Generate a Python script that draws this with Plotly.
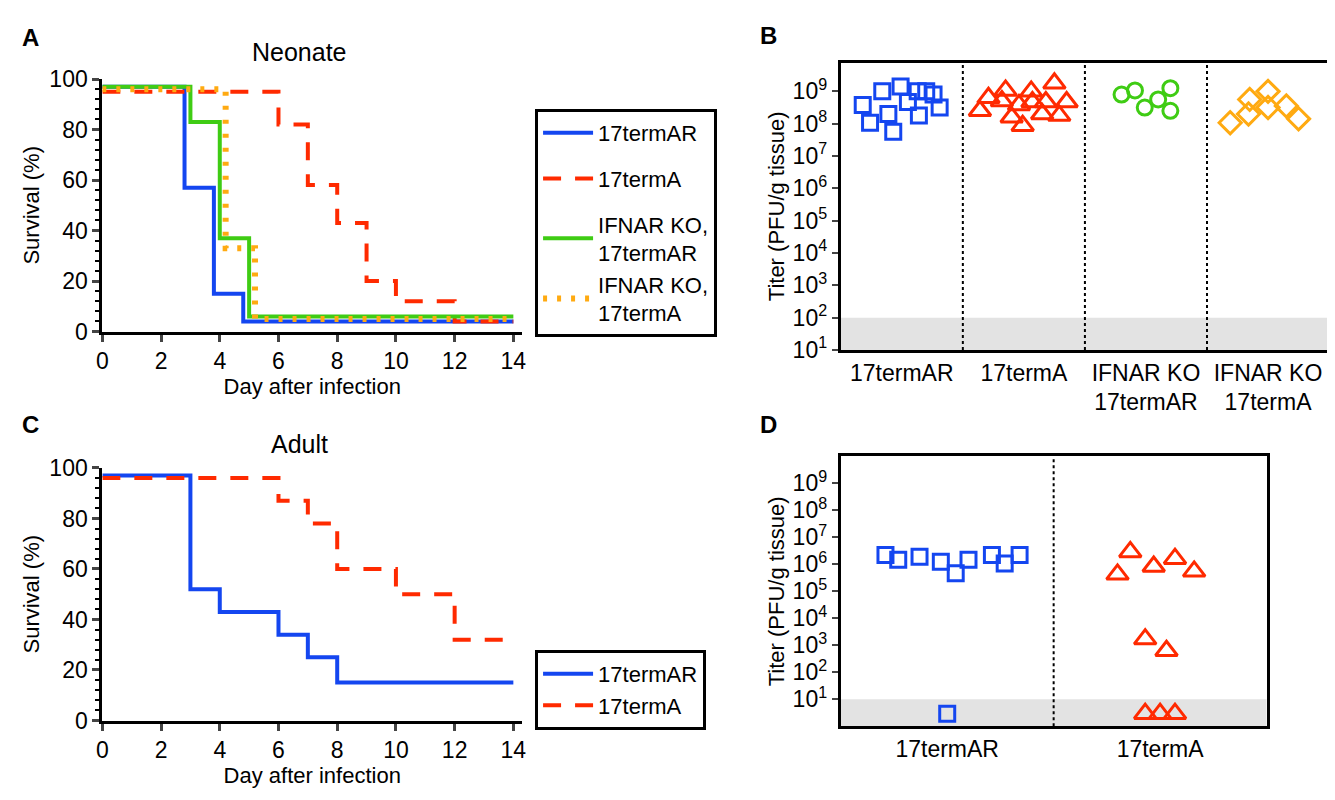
import plotly.graph_objects as go

# Panel A (Neonate) survival step data
a_ar_day = [0, 2.8, 3.8, 4.8, 14]
a_ar_surv = [97, 57, 15, 4, 4]
a_a_day = [0, 6, 7, 8, 9, 10, 12, 14]
a_a_surv = [95, 82, 58, 43, 20, 12, 4, 4]
a_koar_day = [0, 3, 4, 5, 14]
a_koar_surv = [97, 83, 37, 6, 6]
a_koa_day = [0, 4.2, 5.2, 14]
a_koa_surv = [96, 33, 5, 5]

# Panel C (Adult)
c_ar_day = [0, 3, 4, 6, 7, 8, 14]
c_ar_surv = [97, 52, 43, 34, 25, 15, 15]
c_a_day = [0, 6, 7, 8, 10, 12, 14]
c_a_surv = [96, 87, 78, 60, 50, 32, 32]

# Panel B titers (category index + jitter, log10 titer)
b_categories = ["17termAR", "17termA", "IFNAR KO<br>17termAR", "IFNAR KO<br>17termA"]
b_ar_x = [-0.32, -0.26, -0.16, -0.11, -0.07, -0.01, 0.05, 0.13, 0.14, 0.20, 0.26, 0.31]
b_ar_log = [8.58, 8.03, 9.0, 8.3, 7.75, 9.15, 8.67, 9.0, 8.25, 9.0, 8.9, 8.5]
b_a_x = [-0.36, -0.29, -0.18, -0.15, -0.10, -0.04, -0.01, 0.06, 0.07, 0.15, 0.18, 0.25, 0.29, 0.35]
b_a_log = [8.4, 8.8, 8.7, 9.03, 8.2, 8.58, 7.94, 9.0, 8.67, 8.3, 8.67, 9.25, 8.25, 8.67]
b_koar_x = [-0.20, -0.09, -0.01, 0.10, 0.20, 0.20]
b_koar_log = [8.9, 9.03, 8.5, 8.75, 9.1, 8.4]
b_koa_x = [-0.31, -0.16, -0.15, 0.0, 0.0, 0.15, 0.25]
b_koa_log = [8.03, 8.3, 8.75, 9.0, 8.5, 8.55, 8.15]

# Panel D titers
d_categories = ["17termAR", "17termA"]
d_ar_x = [-0.29, -0.23, -0.13, -0.03, 0.04, 0.10, 0.21, 0.27, 0.34, 0.0]
d_ar_log = [6.35, 6.17, 6.28, 6.10, 5.67, 6.17, 6.35, 6.03, 6.35, 0.47]
d_a_x = [0.80, 0.86, 0.97, 1.07, 1.16, 0.93, 1.03, 0.93, 1.0, 1.07]
d_a_log = [5.63, 6.46, 5.92, 6.21, 5.74, 3.23, 2.80, 0.47, 0.47, 0.47]

BLUE = "#1446f0"
RED = "#ff2a00"
GREEN = "#3fcc14"
ORANGE = "#ffaa11"
FONT = "Liberation Sans"

fig = go.Figure()

def surv(x, y, name, color, dash, xa, ya, legend, group, width=4):
    fig.add_trace(go.Scatter(x=x, y=y, mode="lines", line_shape="hv", name=name,
                             line=dict(color=color, width=width, dash=dash),
                             xaxis=xa, yaxis=ya, legend=legend, legendgroup=group))

surv(a_ar_day, a_ar_surv, "17termAR", BLUE, "solid", "x", "y", "legend", "a1")
surv(a_a_day, a_a_surv, "17termA", RED, "18px,14px", "x", "y", "legend", "a2")
surv(a_koar_day, a_koar_surv, "IFNAR KO,<br>17termAR", GREEN, "solid", "x", "y", "legend", "a3")
surv(a_koa_day, a_koa_surv, "IFNAR KO,<br>17termA", ORANGE, "4px,10px", "x", "y", "legend", "a3", 6)
surv(c_ar_day, c_ar_surv, "17termAR", BLUE, "solid", "x3", "y3", "legend2", "c1")
surv(c_a_day, c_a_surv, "17termA", RED, "18px,14px", "x3", "y3", "legend2", "c1")

def pts(x, y, sym, color, size, xa, ya):
    fig.add_trace(go.Scatter(x=x, y=[10 ** v for v in y], mode="markers", showlegend=False,
                             marker=dict(symbol=sym, size=size, color=color,
                                         line=dict(color=color, width=3)),
                             xaxis=xa, yaxis=ya))

pts(b_ar_x, b_ar_log, "square-open", BLUE, 15, "x2", "y2")
pts([1 + v for v in b_a_x], b_a_log, "triangle-up-open", RED, 19, "x2", "y2")
pts([2 + v for v in b_koar_x], b_koar_log, "circle-open", GREEN, 15, "x2", "y2")
pts([3 + v for v in b_koa_x], b_koa_log, "diamond-open", ORANGE, 17, "x2", "y2")
pts(d_ar_x, d_ar_log, "square-open", BLUE, 15, "x4", "y4")
pts(d_a_x, d_a_log, "triangle-up-open", RED, 19, "x4", "y4")

W, H = 1335, 800
def dx(a, b): return [a / W, b / W]
def dy(top, bot): return [1 - bot / H, 1 - top / H]

tickf = dict(family=FONT, size=23, color="black")
titf = dict(family=FONT, size=22, color="black")
surv_x = dict(range=[0, 14.3], dtick=2, ticks="outside", ticklen=7, tickwidth=3,
              showline=True, linewidth=3, linecolor="black", showgrid=False, zeroline=False,
              tickfont=tickf, title=dict(text="Day after infection", font=titf, standoff=2))
surv_y = dict(range=[0, 100], dtick=20, ticks="outside", ticklen=7, tickwidth=3,
              minor=dict(dtick=4, ticks="outside", ticklen=4, tickwidth=2, tickcolor="black"),
              showline=True, linewidth=3, linecolor="black", showgrid=False, zeroline=False,
              tickfont=tickf, title=dict(text="Survival (%)", font=titf, standoff=4))
log_ticks = dict(tickvals=[10 ** k for k in range(1, 10)],
                 ticktext=["10<sup>%d</sup>" % k for k in range(1, 10)],
                 ticks="outside", ticklen=6, tickwidth=2, showgrid=False, zeroline=False,
                 showline=True, mirror=True, linewidth=3, linecolor="black", tickfont=tickf,
                 title=dict(text="Titer (PFU/g tissue)", font=titf, standoff=2))

fig.update_layout(
    width=W, height=H, margin=dict(l=0, r=0, t=0, b=0),
    plot_bgcolor="white", paper_bgcolor="white", font=dict(family=FONT, color="black"),
    xaxis=dict(surv_x, domain=dx(89, 512), anchor="y"),
    yaxis=dict(surv_y, domain=dy(60, 321), anchor="x"),
    xaxis3=dict(surv_x, domain=dx(89, 512), anchor="y3"),
    yaxis3=dict(surv_y, domain=dy(462, 723), anchor="x3"),
    xaxis2=dict(domain=dx(833, 1325), anchor="y2", range=[-0.5, 3.5], tickvals=[0, 1, 2, 3],
                ticktext=b_categories, ticks="", showgrid=False, zeroline=False,
                showline=True, mirror=True, linewidth=3, linecolor="black", tickfont=tickf),
    yaxis2=dict(log_ticks, domain=dy(43, 340), anchor="x2", type="log", range=[1, 9.89]),
    xaxis4=dict(domain=dx(833, 1262), anchor="y4", range=[-0.5, 1.5], tickvals=[0, 1],
                ticktext=d_categories, ticks="", showgrid=False, zeroline=False,
                showline=True, mirror=True, linewidth=3, linecolor="black", tickfont=tickf),
    yaxis4=dict(log_ticks, domain=dy(450, 729), anchor="x4", type="log", range=[0, 10.0]),
    legend=dict(x=525 / W, y=1 - 91 / H, xanchor="left", yanchor="top", bordercolor="black",
                borderwidth=3, font=dict(family=FONT, size=22), tracegroupgap=14, itemwidth=50,
                bgcolor="white"),
    legend2=dict(x=525 / W, y=1 - 650 / H, xanchor="left", yanchor="top", bordercolor="black",
                 borderwidth=3, font=dict(family=FONT, size=22), tracegroupgap=0, itemwidth=50,
                 bgcolor="white"),
)

shapes = [
    dict(type="rect", xref="x2 domain", yref="y2 domain", x0=0, x1=1, y0=0, y1=1 / 8.89,
         fillcolor="#e3e3e3", line_width=0, layer="below"),
    dict(type="rect", xref="x4 domain", yref="y4 domain", x0=0, x1=1, y0=0, y1=0.1,
         fillcolor="#e3e3e3", line_width=0, layer="below"),
]
for xv in [0.5, 1.5, 2.5]:
    shapes.append(dict(type="line", xref="x2", yref="y2 domain", x0=xv, x1=xv, y0=0, y1=1,
                       line=dict(color="black", width=2, dash="dot")))
shapes.append(dict(type="line", xref="x4", yref="y4 domain", x0=0.5, x1=0.5, y0=0, y1=1,
                   line=dict(color="black", width=2, dash="dot")))
fig.update_layout(shapes=shapes)

ann = []
for txt, x, y in [("A", 6, 17), ("B", 750, 15), ("C", 6, 417), ("D", 750, 417)]:
    ann.append(dict(text="<b>%s</b>" % txt, x=x / W, y=1 - y / H, xref="paper", yref="paper",
                    xanchor="left", yanchor="middle", showarrow=False, font=dict(family=FONT, size=24)))
for txt, x, y in [("Neonate", 288, 32), ("Adult", 288, 437)]:
    ann.append(dict(text=txt, x=x / W, y=1 - y / H, xref="paper", yref="paper",
                    xanchor="center", yanchor="middle",
                    showarrow=False, font=dict(family=FONT, size=25)))
fig.update_layout(annotations=ann)

fig.write_html("out.html")
